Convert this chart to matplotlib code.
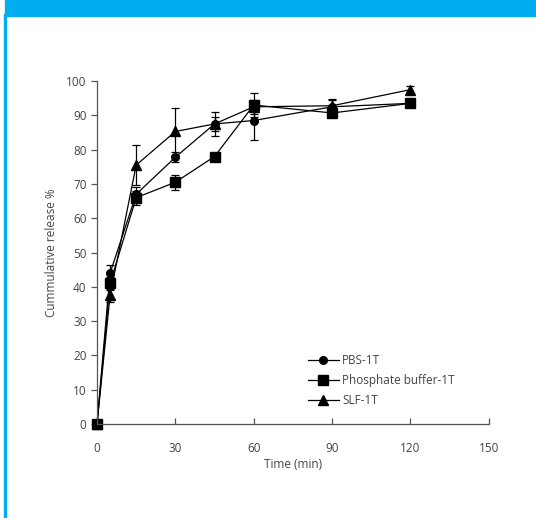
import matplotlib.pyplot as plt
from matplotlib.lines import Line2D
from matplotlib.patches import Rectangle

plt.rcParams['font.family'] = ['Open Sans', 'DejaVu Sans']

time = [0, 5, 15, 30, 45, 60, 90, 120]

pbs = [0, 44, 67, 77.8, 87.5, 88.5, 92.5, 93.5]
pbs_err = [0, 2.5, 2, 1.5, 3.5, 5.8, 2, 1]

phosphate = [0, 41, 66, 70.5, 78, 93, 90.7, 93.5]
phosphate_err = [0, 2, 2, 2.2, 0.5, 3.5, 1, 1]

slf = [0, 37.5, 75.5, 85.3, 87.5, 92.5, 92.8, 97.5]
slf_err = [0, 2, 5.8, 6.8, 2, 2, 2, 1.2]

labels = ['PBS-1T', 'Phosphate buffer-1T', 'SLF-1T']

fig = plt.figure(figsize=(5.36, 5.18), dpi=100)
ax = fig.add_axes([0.181, 0.1815, 0.731, 0.662])

series = [(pbs, pbs_err, 'o', 5.5), (phosphate, phosphate_err, 's', 6.5), (slf, slf_err, '^', 6.5)]
handles = []
for vals, err, m, ms in series:
    ax.errorbar(time, vals, yerr=err, marker=m, markersize=ms, color='black',
                linewidth=0.9, elinewidth=0.9, capsize=3, capthick=0.9,
                clip_on=False)
    handles.append(Line2D([], [], color='black', linewidth=0.9, marker=m, markersize=ms))

ax.set_xlim(0, 150)
ax.set_ylim(0, 100)
ax.set_xticks([0, 30, 60, 90, 120, 150])
ax.set_yticks(range(0, 101, 10))

for s in ['top', 'right']:
    ax.spines[s].set_visible(False)
for s in ['left', 'bottom']:
    ax.spines[s].set_color('#555555')
    ax.spines[s].set_linewidth(0.9)
ax.tick_params(colors='#555555', labelcolor='#444444', labelsize=8.5,
               length=4, width=0.9)
ax.tick_params(axis='y', direction='out')
ax.tick_params(axis='x', direction='in', pad=13)

ax.set_xlabel('Time (min)', fontsize=8.5, color='#444444', labelpad=2)
ax.set_ylabel('Cummulative release %', fontsize=8.5, color='#444444', labelpad=6)

leg = ax.legend(handles, labels, loc='lower right', bbox_to_anchor=(0.94, 0.018),
                frameon=False, fontsize=8.5, handlelength=2.6, handletextpad=0.3,
                labelspacing=0.6)
for t in leg.get_texts():
    t.set_color('#444444')

# blue frame of the source page
fig.patches.append(Rectangle((5 / 536, 1 - 16 / 518), 1, 16 / 518,
                             transform=fig.transFigure, color='#00AEEF', zorder=0))
fig.patches.append(Rectangle((4 / 536, 0), 2 / 536, 1 - 14 / 518,
                             transform=fig.transFigure, color='#00AEEF', zorder=0))

fig.savefig('out.png', dpi=100)
